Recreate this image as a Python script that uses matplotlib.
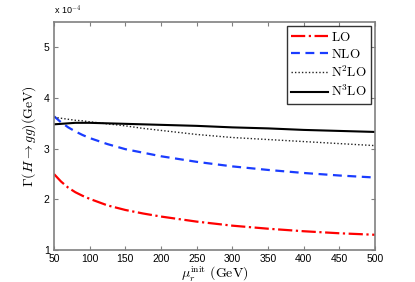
import matplotlib
matplotlib.use("Agg")
import matplotlib.pyplot as plt

# scale in GeV, widths in units of 1e-4 GeV
mu = [50, 60, 70, 80, 90, 100, 125, 150, 175, 200, 250, 300, 350, 400, 450, 500]
lo = [2.50, 2.35, 2.23, 2.14, 2.07, 2.01, 1.88, 1.79, 1.72, 1.66,
      1.56, 1.48, 1.42, 1.37, 1.33, 1.30]
nlo = [3.64, 3.52, 3.42, 3.34, 3.27, 3.21, 3.09, 2.99, 2.92, 2.85,
       2.74, 2.65, 2.58, 2.52, 2.47, 2.43]
n2lo = [3.62, 3.60, 3.58, 3.56, 3.55, 3.53, 3.49, 3.45, 3.40, 3.36,
        3.28, 3.22, 3.18, 3.14, 3.10, 3.06]
n3lo = [3.48, 3.49, 3.50, 3.51, 3.51, 3.51, 3.50, 3.49, 3.48, 3.47,
        3.45, 3.42, 3.40, 3.37, 3.35, 3.33]

xticks = [50, 100, 150, 200, 250, 300, 350, 400, 450, 500]
yticks = [1, 2, 3, 4, 5]

plt.rcParams['mathtext.fontset'] = 'cm'
plt.rcParams['font.family'] = ['Liberation Sans', 'DejaVu Sans']

fig = plt.figure(figsize=(4.15, 2.82), dpi=100)
ax = fig.add_axes([0.130, 0.1135, 0.774, 0.8085])

ax.plot(mu, lo, color='#ff0000', ls='-.', lw=1.6, label=r'$\mathrm{LO}$')
ax.plot(mu, nlo, color='#1a3cff', ls=(0, (4, 2.5)), lw=1.6, label=r'$\mathrm{NLO}$')
ax.plot(mu, n2lo, color='#222222', ls=(0, (1, 1.5)), lw=1.0, label=r'$\mathrm{N^2LO}$')
ax.plot(mu, n3lo, color='black', ls='-', lw=1.5, label=r'$\mathrm{N^3LO}$')

ax.set_xlim(50, 500)
ax.set_ylim(1, 5.5)
ax.set_xticks(xticks)
ax.set_yticks(yticks)
ax.tick_params(direction='in', top=True, right=True, length=3, width=0.8,
               color='#808080', labelsize=7.5)
ax.tick_params(axis='x', pad=3)
ax.tick_params(axis='y', pad=3)
for spine in ax.spines.values():
    spine.set_color('#808080')
    spine.set_linewidth(1.2)

ax.text(0.0, 1.02, r'x 10$^{-4}$', transform=ax.transAxes, fontsize=6.5,
        ha='left', va='bottom')

ax.set_ylabel(r'$\Gamma(H\rightarrow gg)(\mathrm{GeV})$', fontsize=10, labelpad=4)
ax.set_xlabel(r'$\mu_r^{\mathrm{init}}\ (\mathrm{GeV})$', fontsize=10, labelpad=0)

leg = ax.legend(loc='upper right', fontsize=9.5, frameon=True, fancybox=False,
                handlelength=2.8, handletextpad=0.2, borderpad=0.35,
                labelspacing=0.3, borderaxespad=0.3)
leg.get_frame().set_edgecolor('black')
leg.get_frame().set_linewidth(1.0)

fig.savefig('out.png', dpi=100)
